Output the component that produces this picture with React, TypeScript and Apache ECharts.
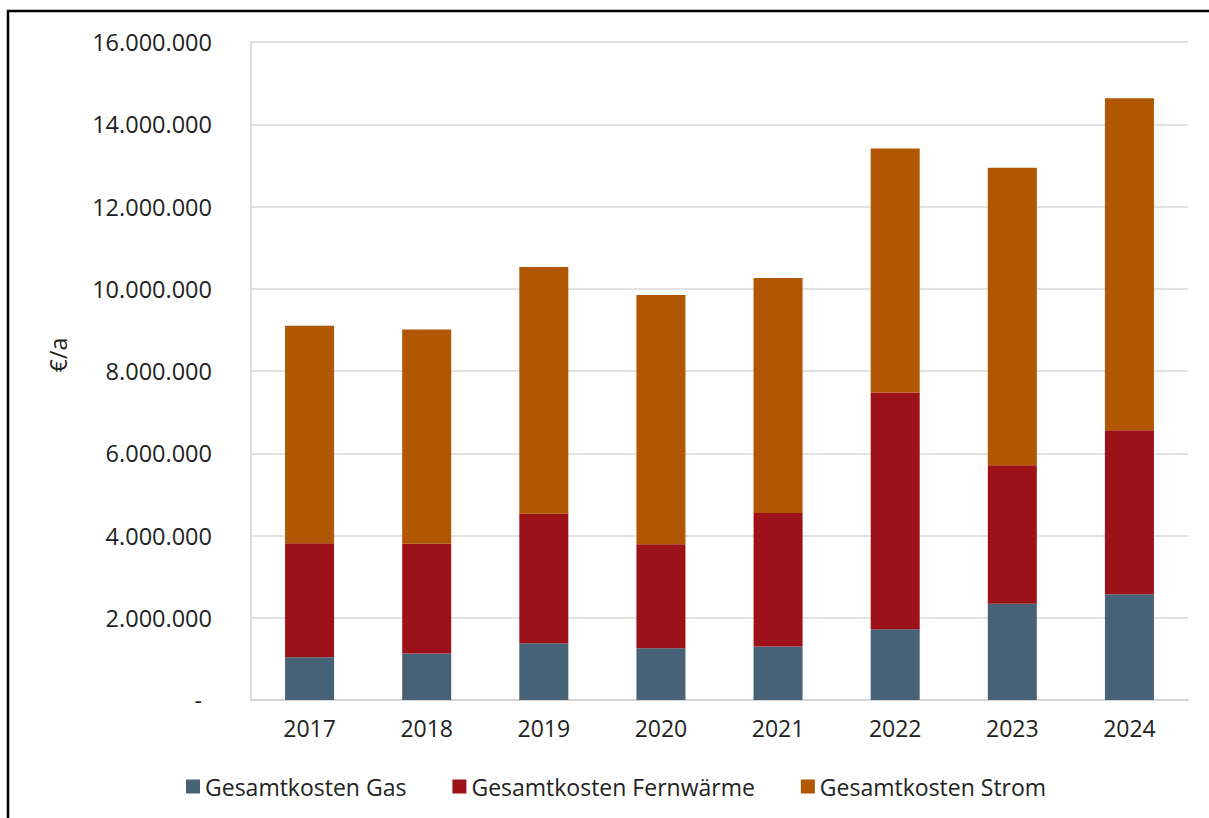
import React, { useEffect, useRef } from "react";
import * as echarts from "echarts";

const years = ["2017", "2018", "2019", "2020", "2021", "2022", "2023", "2024"];
const gas = [1040000, 1130000, 1380000, 1260000, 1300000, 1720000, 2340000, 2570000];
const fernwaerme = [2770000, 2670000, 3150000, 2530000, 3250000, 5760000, 3370000, 3990000];
const strom = [5290000, 5210000, 6000000, 6060000, 5710000, 5930000, 7230000, 8070000];
const seriesNames = ["Gesamtkosten Gas", "Gesamtkosten Fernwärme", "Gesamtkosten Strom"];
const colors = ["#476177", "#9d1118", "#b15601"];
const yMin = 0;
const yMax = 16000000;
const yStep = 2000000;

const fmt = (v: number) => {
  if (v === 0) return "{d|-}";
  return String(Math.round(v)).replace(/\B(?=(\d{3})+(?!\d))/g, ".");
};

export default function App() {
  const ref = useRef<HTMLDivElement>(null);
  useEffect(() => {
    if (!ref.current) return;
    const chart = echarts.init(ref.current, undefined, { renderer: "svg" });
    const font = "'Open Sans', sans-serif";
    const textColor = "#222";
    const data = [gas, fernwaerme, strom];
    chart.setOption({
      animation: false,
      backgroundColor: "#fff",
      textStyle: { fontFamily: font },
      grid: { left: 251, right: 21, top: 42, bottom: 118, containLabel: false },
      legend: {
        left: 186,
        top: 775,
        padding: 0,
        itemWidth: 14,
        itemHeight: 14,
        itemGap: 46,
        icon: "rect",
        textStyle: { fontSize: 23, color: textColor, fontFamily: font },
        data: seriesNames,
      },
      xAxis: {
        type: "category",
        data: years,
        axisLine: { show: true, lineStyle: { color: "#d0d0d0", width: 1.5 } },
        axisTick: { show: false },
        axisLabel: { fontSize: 23, color: textColor, margin: 16, fontFamily: font },
      },
      yAxis: {
        type: "value",
        min: yMin,
        max: yMax,
        interval: yStep,
        axisLine: { show: true, lineStyle: { color: "#d0d0d0", width: 1.5 } },
        axisTick: { show: false },
        splitLine: { show: true, lineStyle: { color: "#d9d9d9", width: 1.5 } },
        axisLabel: {
          fontSize: 23.5,
          color: textColor,
          margin: 39,
          fontFamily: font,
          formatter: fmt,
          rich: { d: { fontSize: 23, color: textColor, padding: [0, 10, 0, 0], fontFamily: font } },
        },
      },
      graphic: [
        {
          type: "polyline",
          shape: { points: [[8, 830], [8, 11], [1220, 11]] },
          style: { stroke: "#000", lineWidth: 2.5, fill: null },
          z: 100,
        },
        {
          type: "text",
          x: 58,
          y: 355,
          rotation: Math.PI / 2,
          style: {
            text: "€/a",
            fontSize: 23,
            fill: textColor,
            fontFamily: font,
            textAlign: "center",
            textVerticalAlign: "middle",
          },
        },
      ],
      series: seriesNames.map((name, i) => ({
        name,
        type: "bar",
        stack: "total",
        barWidth: 49,
        data: data[i],
        itemStyle: { color: colors[i] },
      })),
    });
    return () => chart.dispose();
  }, []);
  return (
    <div
      ref={ref}
      style={{ position: "absolute", left: 0, top: 0, width: 1209, height: 818, overflow: "hidden" }}
    />
  );
}
